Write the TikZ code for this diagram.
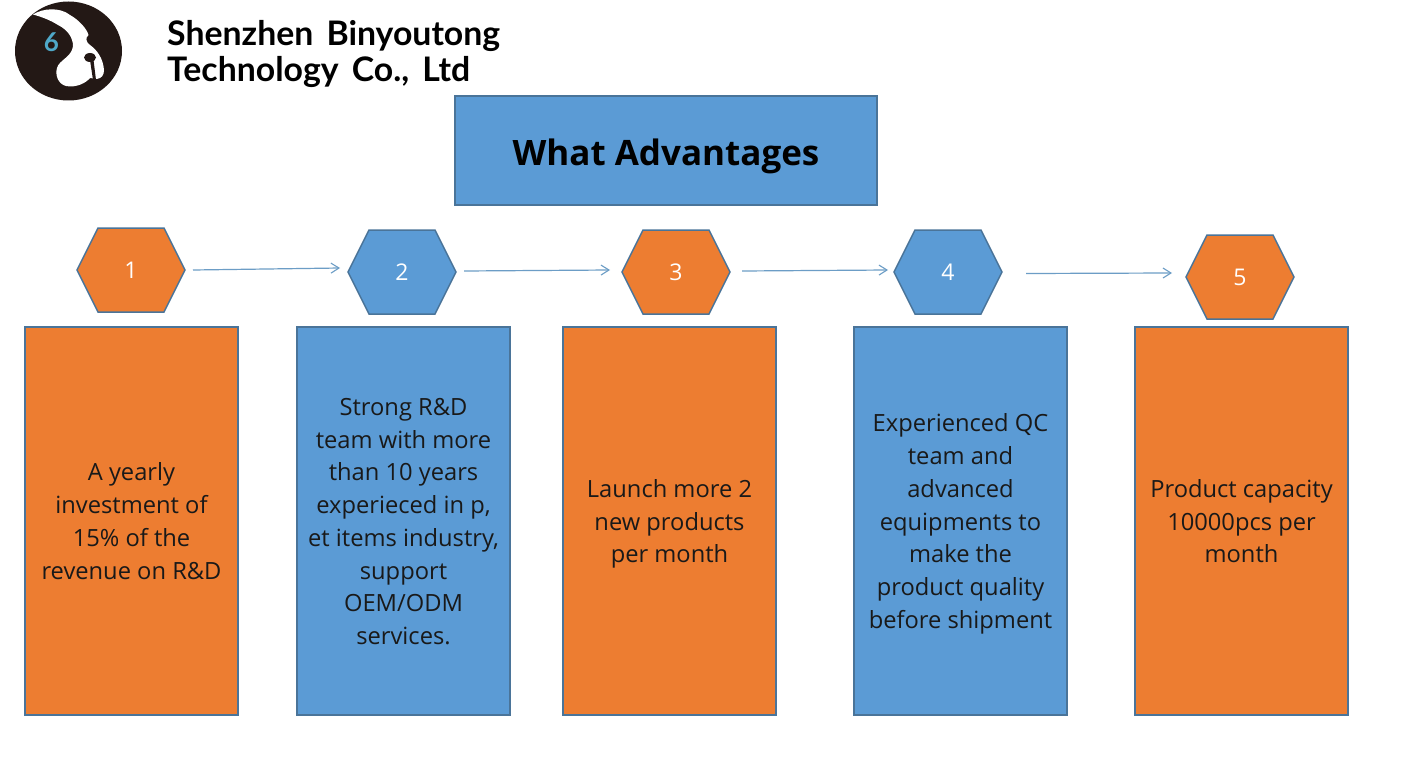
\documentclass[tikz,border=0pt]{standalone}
\usepackage{fontspec}
\setmainfont{Open Sans}
\newfontfamily\headfont[WordSpace=1.6]{Lato}
\usetikzlibrary{arrows.meta}
\definecolor{boxorange}{HTML}{ED7D31}
\definecolor{boxblue}{HTML}{5B9BD5}
\definecolor{boxedge}{HTML}{4A7499}
\definecolor{arrowblue}{HTML}{6C9DC6}
\definecolor{logoblack}{HTML}{231815}
\definecolor{logoblue}{HTML}{4FA8C8}
\newcommand{\paneltext}[1]{\rule{0pt}{26pt}#1\rule[-8pt]{0pt}{8pt}}
\makeatletter
\pgfdeclareshape{flathex}{
  \inheritsavedanchors[from=rectangle]
  \inheritanchorborder[from=rectangle]
  \inheritanchor[from=rectangle]{center}
  \inheritanchor[from=rectangle]{north}
  \inheritanchor[from=rectangle]{south}
  \inheritanchor[from=rectangle]{east}
  \inheritanchor[from=rectangle]{west}
  \backgroundpath{
    \southwest \pgf@xa=\pgf@x \pgf@ya=\pgf@y
    \northeast \pgf@xb=\pgf@x \pgf@yb=\pgf@y
    \pgf@yc=.5\pgf@ya \advance\pgf@yc by .5\pgf@yb
    \pgfpathmoveto{\pgfqpoint{\pgf@xa}{\pgf@yc}}
    \pgfpathlineto{\pgfpoint{\pgf@xa+21pt}{\pgf@yb}}
    \pgfpathlineto{\pgfpoint{\pgf@xb-21pt}{\pgf@yb}}
    \pgfpathlineto{\pgfqpoint{\pgf@xb}{\pgf@yc}}
    \pgfpathlineto{\pgfpoint{\pgf@xb-21pt}{\pgf@ya}}
    \pgfpathlineto{\pgfpoint{\pgf@xa+21pt}{\pgf@ya}}
    \pgfpathclose
  }
}
\makeatother
\tikzset{
  x=1pt,y=-1pt,
  panel/.style={draw=boxedge,line width=2pt,minimum width=213pt,minimum height=388pt,inner sep=0pt,align=center,font=\fontsize{23.7}{32.7}\selectfont,text=black!90},
  hexa/.style={shape=flathex,draw=boxedge,line width=1.5pt,minimum width=106.5pt,minimum height=82.5pt,inner sep=0pt,text=white,font=\fontsize{23}{28}\selectfont},
  flow/.style={draw=arrowblue,line width=1.2pt,-{Straight Barb[length=8pt,width=10pt,line width=1.1pt]}},
  headtext/.style={align=left,anchor=west,inner sep=0pt,font=\headfont\bfseries\fontsize{33.8}{36.5}\selectfont},
}
\begin{document}
\begin{tikzpicture}
\useasboundingbox (0,0) rectangle (1401,784);
\fill[white] (0,0) rectangle (1401,784);
% logo
\fill[logoblack] (68.5,51) ellipse [x radius=53.5, y radius=49.5];
\fill[white] (33,14.5) .. controls (43,8) and (60,7) .. (70,15) .. controls (79,20) and (87,29) .. (88.5,35)
  .. controls (85,38) and (86,42) .. (90,45) .. controls (97,50) and (103,58) .. (104,70)
  .. controls (104,75) and (102,78) .. (97,79) -- (90,78)
  .. controls (86,83) and (76,88) .. (66,86) .. controls (58,84) and (55,75) .. (57,68)
  .. controls (59,60) and (72,57) .. (73,46) .. controls (73,38) and (68,30) .. (58,25)
  .. controls (50,20) and (42,17) .. (33,14.5) -- cycle;
\fill[logoblack] (90,57.5) ellipse [x radius=6, y radius=4.5];
\fill[logoblack] (90,60) -- (93.5,60) -- (96,80) -- (93,80) -- cycle;
\node[inner sep=0pt,text=logoblue,font=\headfont\bfseries\fontsize{26}{26}\selectfont] (six) at (51.5,42) {6};
% company name
\node[headtext] (company) at (167,54) {Shenzhen Binyoutong\\Technology Co., Ltd};
% title
\node[draw=boxedge,line width=2pt,fill=boxblue,minimum width=422pt,minimum height=109pt,inner sep=0pt,font=\bfseries\fontsize{35}{42}\selectfont,text=black] (title) at (666,150.5) {\raisebox{-15pt}[0pt][0pt]{What Advantages}};
% hexagons
\node[hexa,fill=boxorange] (h1) at (131,270) {1};
\node[hexa,fill=boxblue] (h2) at (402,272) {2};
\node[hexa,fill=boxorange] (h3) at (676,272) {3};
\node[hexa,fill=boxblue] (h4) at (948,272) {4};
\node[hexa,fill=boxorange] (h5) at (1240,277) {5};
% connectors
\draw[flow] ([shift={(8,0)}]h1.east) -- ([shift={(-8,-4)}]h2.west);
\draw[flow] ([shift={(8,-1)}]h2.east) -- ([shift={(-12,-2)}]h3.west);
\draw[flow] ([shift={(12,-1)}]h3.east) -- ([shift={(-6,-2)}]h4.west);
\draw[flow] ([shift={(24,1.5)}]h4.east) -- ([shift={(-14,-4)}]h5.west);
% panels
\node[panel,fill=boxorange] (p1) at (131.5,521) {\paneltext{A yearly\\investment of\\15\% of the\\revenue on R\&D}};
\node[panel,fill=boxblue] (p2) at (403.5,521) {\paneltext{Strong R\&D\\team with more\\than 10 years\\experieced in p,\\et items industry,\\support\\OEM/ODM\\services.}};
\node[panel,fill=boxorange] (p3) at (669.5,521) {\paneltext{Launch more 2\\new products\\per month}};
\node[panel,fill=boxblue] (p4) at (960.5,521) {\paneltext{Experienced QC\\team and\\advanced\\equipments to\\make the\\product quality\\before shipment}};
\node[panel,fill=boxorange] (p5) at (1241.5,521) {\paneltext{Product capacity\\10000pcs per\\month}};
\end{tikzpicture}
\end{document}
